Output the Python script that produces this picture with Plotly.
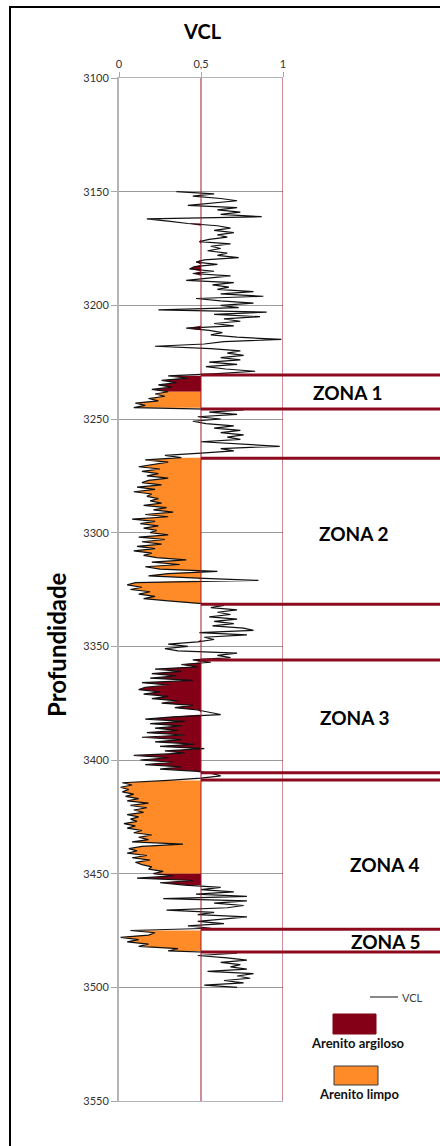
import plotly.graph_objects as go

# VCL log, sampled every metre from 3150 m to 3500 m
depth_top = 3150
vcl = [
    0.35, 0.58, 0.45, 0.62, 0.72, 0.58, 0.42, 0.72, 0.60, 0.74,  # 3150
    0.62, 0.87, 0.17, 0.30, 0.42, 0.60, 0.68, 0.58, 0.70, 0.60,  # 3160
    0.66, 0.55, 0.49, 0.68, 0.56, 0.62, 0.54, 0.66, 0.60, 0.73,  # 3170
    0.52, 0.47, 0.60, 0.46, 0.43, 0.58, 0.45, 0.68, 0.55, 0.41,  # 3180
    0.70, 0.57, 0.67, 0.60, 0.82, 0.62, 0.88, 0.47, 0.62, 0.82,  # 3190
    0.62, 0.73, 0.24, 0.90, 0.58, 0.86, 0.64, 0.74, 0.58, 0.70,  # 3200
    0.41, 0.55, 0.63, 0.56, 0.72, 0.99, 0.64, 0.52, 0.22, 0.56,  # 3210
    0.74, 0.66, 0.76, 0.62, 0.74, 0.55, 0.72, 0.53, 0.65, 0.83,  # 3220
    0.60, 0.30, 0.42, 0.26, 0.35, 0.24, 0.32, 0.20, 0.30, 0.22,  # 3230
    0.28, 0.18, 0.24, 0.10, 0.16, 0.09, 0.76, 0.55, 0.72, 0.48,  # 3240
    0.62, 0.45, 0.53, 0.70, 0.58, 0.74, 0.62, 0.76, 0.66, 0.74,  # 3250
    0.50, 0.72, 0.98, 0.62, 0.70, 0.50, 0.28, 0.38, 0.16, 0.30,  # 3260
    0.20, 0.12, 0.25, 0.14, 0.24, 0.17, 0.30, 0.18, 0.14, 0.26,  # 3270
    0.11, 0.22, 0.09, 0.20, 0.17, 0.24, 0.19, 0.26, 0.15, 0.29,  # 3280
    0.21, 0.33, 0.16, 0.30, 0.08, 0.22, 0.13, 0.24, 0.15, 0.23,  # 3290
    0.19, 0.30, 0.12, 0.28, 0.14, 0.26, 0.11, 0.22, 0.09, 0.20,  # 3300
    0.15, 0.23, 0.41, 0.20, 0.37, 0.16, 0.25, 0.60, 0.30, 0.18,  # 3310
    0.48, 0.85, 0.10, 0.05, 0.14, 0.07, 0.19, 0.12, 0.22, 0.15,  # 3320
    0.30, 0.45, 0.64, 0.56, 0.72, 0.60, 0.68, 0.55, 0.72, 0.58,  # 3330
    0.70, 0.57, 0.76, 0.82, 0.49, 0.78, 0.52, 0.58, 0.48, 0.30,  # 3340
    0.42, 0.28, 0.36, 0.72, 0.60, 0.68, 0.45, 0.56, 0.38, 0.48,  # 3350
    0.22, 0.38, 0.20, 0.35, 0.19, 0.45, 0.14, 0.30, 0.16, 0.12,  # 3360
    0.25, 0.15, 0.30, 0.20, 0.36, 0.26, 0.45, 0.34, 0.48, 0.55,  # 3370
    0.62, 0.33, 0.16, 0.40, 0.19, 0.38, 0.22, 0.36, 0.17, 0.40,  # 3380
    0.14, 0.38, 0.22, 0.46, 0.25, 0.52, 0.28, 0.40, 0.09, 0.30,  # 3390
    0.13, 0.33, 0.16, 0.38, 0.25, 0.48, 0.57, 0.62, 0.50, 0.30,  # 3400
    0.02, 0.08, 0.01, 0.06, 0.02, 0.09, 0.04, 0.12, 0.05, 0.18,  # 3410
    0.07, 0.17, 0.09, 0.15, 0.05, 0.12, 0.07, 0.11, 0.03, 0.10,  # 3420
    0.05, 0.14, 0.09, 0.20, 0.12, 0.18, 0.08, 0.39, 0.14, 0.06,  # 3430
    0.11, 0.05, 0.17, 0.08, 0.19, 0.10, 0.14, 0.20, 0.18, 0.27,  # 3440
    0.21, 0.33, 0.11, 0.45, 0.25, 0.40, 0.62, 0.50, 0.70, 0.47,  # 3450
    0.78, 0.27, 0.78, 0.58, 0.76, 0.66, 0.29, 0.58, 0.48, 0.78,  # 3460
    0.62, 0.48, 0.64, 0.42, 0.56, 0.07, 0.22, 0.18, 0.01, 0.12,  # 3470
    0.05, 0.18, 0.12, 0.36, 0.30, 0.72, 0.48, 0.66, 0.78, 0.62,  # 3480
    0.74, 0.68, 0.78, 0.54, 0.82, 0.72, 0.80, 0.64, 0.76, 0.52,  # 3490
    0.72,                                                        # 3500
]
depth = [depth_top + i for i in range(len(vcl))]

# Lithology intervals (top, base, facies) shaded between the VCL curve and the 0.5 cutoff
facies_top = [3164, 3171, 3180, 3209, 3231, 3238, 3267, 3347, 3356, 3409, 3450, 3475]
facies_base = [3165, 3173, 3187, 3211, 3238, 3245, 3331, 3348, 3405, 3450, 3455, 3484]
facies_kind = ["argiloso", "argiloso", "argiloso", "argiloso", "argiloso", "limpo",
               "limpo", "argiloso", "argiloso", "limpo", "argiloso", "limpo"]

# Zone boundaries (m)
zone_bounds = [3230.7, 3245.6, 3267.3, 3331.5, 3356.0, 3405.6, 3408.8, 3474.5, 3484.5]
zone_names = ["ZONA 1", "ZONA 2", "ZONA 3", "ZONA 4", "ZONA 5"]
zone_label_depth = [3238.5, 3300.2, 3381.1, 3445.8, 3479.7]
zone_label_x = [1.396, 1.427, 1.439, 1.616, 1.622]

x_ticks = [0, 0.5, 1]
x_ticktext = ["0", "0,5", "1"]
y_ticks = [3100, 3150, 3200, 3250, 3300, 3350, 3400, 3450, 3500, 3550]

cutoff = 0.5
colors = {"argiloso": "#840016", "limpo": "#FF8A28"}
FONT = "Lato"
W, H = 440, 1146
ML, MR, MT, MB = 119, 157, 78, 45
PW, PH = W - ML - MR, H - MT - MB


def px(xp):
    return (xp - ML) / PW


def py(yp):
    return (H - MB - yp) / PH


fig = go.Figure()

for top, base, kind in zip(facies_top, facies_base, facies_kind):
    seg = [(d, min(v, cutoff)) for d, v in zip(depth, vcl) if top <= d <= base]
    xs = [cutoff] + [v for _, v in seg] + [cutoff]
    ys = [seg[0][0]] + [d for d, _ in seg] + [seg[-1][0]]
    fig.add_trace(go.Scatter(
        x=xs, y=ys, mode="lines", fill="toself", fillcolor=colors[kind],
        line=dict(width=0, color=colors[kind]), hoverinfo="skip", showlegend=False,
    ))

fig.add_trace(go.Scatter(
    x=vcl, y=depth, mode="lines", name="VCL",
    line=dict(color="#111111", width=1.2), showlegend=False,
))

shapes = []
# cutoff and maximum reference lines
for xv in (0.5, 1.0):
    shapes.append(dict(type="line", xref="x", yref="y", x0=xv, x1=xv, y0=3100, y1=3550,
                       line=dict(color="#9E1830", width=1), layer="above"))
# zone boundaries
for zb in zone_bounds:
    shapes.append(dict(type="line", xref="paper", yref="y", x0=0.5, x1=2.1, y0=zb, y1=zb,
                       line=dict(color="#8B0A1E", width=3), layer="above"))
# outer frame
shapes.append(dict(type="line", xref="paper", yref="paper", x0=px(9), x1=px(460),
                   y0=py(7), y1=py(7), line=dict(color="#000000", width=2)))
shapes.append(dict(type="line", xref="paper", yref="paper", x0=px(10), x1=px(10),
                   y0=py(6), y1=py(1160), line=dict(color="#000000", width=2)))
# legend swatches
shapes.append(dict(type="line", xref="paper", yref="paper", x0=px(370), x1=px(398),
                   y0=py(997), y1=py(997), line=dict(color="#111111", width=1)))
shapes.append(dict(type="rect", xref="paper", yref="paper", x0=px(333), x1=px(376),
                   y0=py(1034), y1=py(1014), fillcolor=colors["argiloso"],
                   line=dict(color=colors["argiloso"], width=1)))
shapes.append(dict(type="rect", xref="paper", yref="paper", x0=px(334), x1=px(378),
                   y0=py(1085), y1=py(1066), fillcolor=colors["limpo"],
                   line=dict(color="#3A3A3A", width=1)))

annotations = []
for name, zd, zx in zip(zone_names, zone_label_depth, zone_label_x):
    annotations.append(dict(text=f"<b>{name}</b>", xref="paper", yref="y", x=zx, y=zd,
                            showarrow=False, xanchor="center", yanchor="middle",
                            font=dict(family=FONT, size=19, color="#000000")))
annotations.append(dict(text="<b>VCL</b>", xref="paper", yref="paper", x=px(202), y=py(31),
                        showarrow=False, xanchor="center", yanchor="middle",
                        font=dict(family=FONT, size=20, color="#000000")))
annotations.append(dict(text="<b>Profundidade</b>", xref="paper", yref="paper", x=px(56),
                        y=py(645), textangle=-90, showarrow=False, xanchor="center",
                        yanchor="middle", font=dict(family=FONT, size=24, color="#000000")))
annotations.append(dict(text="VCL", xref="paper", yref="paper", x=px(400), y=py(997),
                        showarrow=False, xanchor="left", yanchor="middle",
                        font=dict(family=FONT, size=11, color="#404040")))
annotations.append(dict(text="<b>Arenito argiloso</b>", xref="paper", yref="paper",
                        x=px(358), y=py(1043), showarrow=False, xanchor="center",
                        yanchor="middle", font=dict(family=FONT, size=13, color="#111111")))
annotations.append(dict(text="<b>Arenito limpo</b>", xref="paper", yref="paper",
                        x=px(359), y=py(1094), showarrow=False, xanchor="center",
                        yanchor="middle", font=dict(family=FONT, size=13, color="#111111")))

fig.update_layout(
    width=W, height=H,
    margin=dict(l=ML, r=MR, t=MT, b=MB, pad=0),
    paper_bgcolor="white", plot_bgcolor="white",
    shapes=shapes, annotations=annotations,
    font=dict(family=FONT, size=11, color="#404040"),
    xaxis=dict(
        side="top", range=[0, 1], tickmode="array", tickvals=x_ticks, ticktext=x_ticktext,
        ticks="outside", ticklen=5, tickcolor="#A6A6A6", showgrid=False, zeroline=False,
        showline=True, linecolor="#B4B4B4", linewidth=1, mirror=True,
        tickfont=dict(family=FONT, size=11, color="#333333"), fixedrange=True,
    ),
    yaxis=dict(
        range=[3550, 3100], tickmode="array", tickvals=y_ticks,
        ticks="outside", ticklen=6, tickcolor="#A6A6A6", showgrid=True,
        gridcolor="#9A9A9A", gridwidth=1, zeroline=False,
        showline=True, linecolor="#B4B4B4", linewidth=2,
        tickfont=dict(family=FONT, size=11, color="#333333"), fixedrange=True,
    ),
    showlegend=False,
)

fig.write_html("out.html")
